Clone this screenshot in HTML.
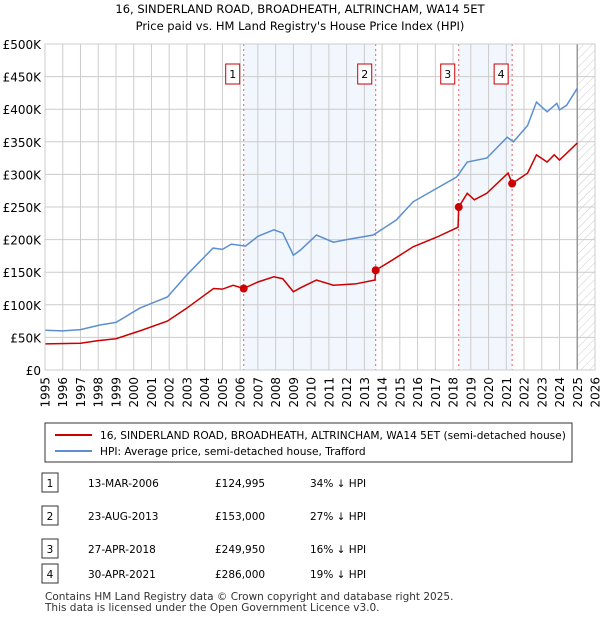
<!DOCTYPE html>
<html><head><meta charset="utf-8"><style>
body{margin:0;background:#fff;font-family:"Liberation Sans",sans-serif;}
svg text{font-family:"DejaVu Sans","Liberation Sans",sans-serif;}
</style></head><body>
<svg width="600" height="620" xmlns="http://www.w3.org/2000/svg">
<defs><pattern id="hatch" width="6" height="6" patternUnits="userSpaceOnUse" patternTransform="rotate(45)"><line x1="0" y1="0" x2="0" y2="6" stroke="#ccc" stroke-width="1"/></pattern></defs>
<text x="300" y="13" text-anchor="middle" font-size="11.5">16, SINDERLAND ROAD, BROADHEATH, ALTRINCHAM, WA14 5ET</text>
<text x="300" y="30" text-anchor="middle" font-size="11.5">Price paid vs. HM Land Registry's House Price Index (HPI)</text>
<g id="plot"></g>
<g id="legend">
<rect x="45" y="423" width="527" height="39" fill="#fff" stroke="#333"/>
<line x1="55" y1="435" x2="92" y2="435" stroke="#cc0000" stroke-width="2"/>
<text x="100" y="439" font-size="10.6">16, SINDERLAND ROAD, BROADHEATH, ALTRINCHAM, WA14 5ET (semi-detached house)</text>
<line x1="55" y1="451" x2="92" y2="451" stroke="#5b8fd0" stroke-width="2"/>
<text x="100" y="455" font-size="10.6">HPI: Average price, semi-detached house, Trafford</text>
</g>
<g id="table" font-size="10.5"></g>
<text x="45" y="600" font-size="10.5" fill="#333">Contains HM Land Registry data © Crown copyright and database right 2025.</text>
<text x="45" y="611" font-size="10.5" fill="#333">This data is licensed under the Open Government Licence v3.0.</text>
</svg>
<script>
const hpiYears=[1995,1996,1997,1998.1,1999,2000.35,2000.8,2001.9,2003,2004.47,2005,2005.5,2006.3,2007,2007.9,2008.4,2009,2009.4,2010.3,2011.25,2012,2013.5,2014.8,2015.75,2017.1,2018.2,2018.8,2019.9,2021.05,2021.4,2022.2,2022.7,2023.3,2023.85,2024,2024.4,2025];
const hpiValues=[61,60,62,69,73,95,100,112,146,187,185,193,190,205,215,210,176,184,207,196,200,207,230,258,279,296,319,325,357,350,375,411,396,409,399,406,432];
const ppYears=[1995,1997,1998,1999,2000.35,2001.9,2003,2004.5,2005,2005.6,2006.2,2007,2007.9,2008.4,2009,2009.4,2010.3,2011.25,2012.5,2013.6,2013.64,2014.6,2015.75,2017.1,2018.28,2018.32,2018.8,2019.2,2019.9,2021.1,2021.33,2022.2,2022.7,2023.3,2023.7,2024,2025];
const ppValues=[40,41,45,48,60,75,95,125,124,130,125,135,143,140,120,126,138,130,132,138,153,169,189,204,219,250,271,261,271,302,286,302,330,319,330,322,348];
const saleYears=[2006.2,2013.64,2018.32,2021.33];
const saleValues=[124.995,153,249.95,286];
const saleLabels=["1","2","3","4"];
const saleDates=["13-MAR-2006","23-AUG-2013","27-APR-2018","30-APR-2021"];
const salePrices=["£124,995","£153,000","£249,950","£286,000"];
const salePct=["34% ↓ HPI","27% ↓ HPI","16% ↓ HPI","19% ↓ HPI"];
const yTicks=[0,50,100,150,200,250,300,350,400,450,500];
const xTicks=[1995,1996,1997,1998,1999,2000,2001,2002,2003,2004,2005,2006,2007,2008,2009,2010,2011,2012,2013,2014,2015,2016,2017,2018,2019,2020,2021,2022,2023,2024,2025,2026];

const NS="http://www.w3.org/2000/svg";
const X=y=>45+(y-1995)*(550/31);
const Y=v=>370-v*(326/500);
function mk(tag,attrs,parent,txt){const e=document.createElementNS(NS,tag);for(const k in attrs)e.setAttribute(k,attrs[k]);if(txt!==undefined)e.textContent=txt;parent.appendChild(e);return e;}
const g=document.getElementById('plot');
for(let i=0;i<4;i+=2){const r=mk('rect',{x:X(saleYears[i]),y:44,width:X(saleYears[i+1])-X(saleYears[i]),height:326,fill:'#f2f6fd'},g);

}
const h=mk('rect',{x:X(2025),y:44,width:X(2026)-X(2025),height:326,fill:'url(#hatch)'},g);


yTicks.forEach(t=>{const l=mk('line',{x1:45,x2:595,y1:Y(t),y2:Y(t),stroke:'#ccc'},g);


const tx=mk('text',{x:41,y:Y(t)+5,'text-anchor':'end','font-size':12},g,t===0?'£0':'£'+t+'K');

});
xTicks.forEach(t=>{const l=mk('line',{x1:X(t),x2:X(t),y1:44,y2:370,stroke:'#ccc'},g);


const tx=mk('text',{x:0,y:0,'text-anchor':'end','font-size':12,transform:'translate('+(X(t)+4.5)+',377) rotate(-90)'},g,String(t));

});
const ll=mk('line',{x1:X(2025),x2:X(2025),y1:44,y2:370,stroke:'#999','stroke-width':1.5},g);


saleYears.forEach((s,i)=>{const l=mk('line',{x1:X(s),x2:X(s),y1:44,y2:370,stroke:'#e06070','stroke-dasharray':'2,3'},g);

});
const hp=mk('polyline',{points:hpiYears.map((y,i)=>X(y)+','+Y(hpiValues[i])).join(' '),fill:'none',stroke:'#5b8fd0','stroke-width':1.5},g);


const pp=mk('polyline',{points:ppYears.map((y,i)=>X(y)+','+Y(ppValues[i])).join(' '),fill:'none',stroke:'#cc0000','stroke-width':1.5},g);


saleYears.forEach((s,i)=>{const c=mk('circle',{cx:X(s),cy:Y(saleValues[i]),r:4,fill:'#cc0000'},g);


const b=mk('rect',{x:X(s)-18,y:64,width:14,height:20,fill:'#fff',stroke:'#cc0000'},g);


const t=mk('text',{x:X(s)-11,y:78,'text-anchor':'middle','font-size':11},g,saleLabels[i]);

});
const ax=mk('rect',{x:45,y:44,width:550,height:326,fill:'none',stroke:'#ccc'},g);


const tb=document.getElementById('table');
const rowsY=[483,516,549,574];
saleLabels.forEach((lab,i)=>{const y=rowsY[i];
const b=mk('rect',{x:42,y:y-10,width:16,height:19,fill:'#fff',stroke:'#333'},tb);


const t=mk('text',{x:50,y:y+4,'text-anchor':'middle'},tb,lab);


const d=mk('text',{x:88,y:y+4},tb,saleDates[i]);


const p=mk('text',{x:215,y:y+4},tb,salePrices[i]);


const q=mk('text',{x:310,y:y+4},tb,salePct[i]);

});
</script>
</body></html>
